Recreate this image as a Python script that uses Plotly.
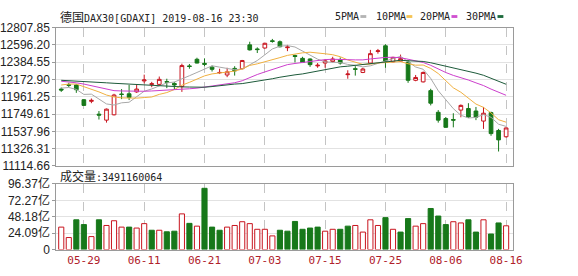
import plotly.graph_objects as go
import pandas as pd

# ---------------- data ----------------
dates = ["05-24", "05-27", "05-28", "05-29", "05-30", "05-31", "06-03", "06-04", "06-05", "06-06",
         "06-07", "06-11", "06-12", "06-13", "06-14", "06-17", "06-18", "06-19", "06-20", "06-21",
         "06-24", "06-25", "06-26", "06-27", "06-28", "07-01", "07-02", "07-03", "07-04", "07-05",
         "07-08", "07-09", "07-10", "07-11", "07-12", "07-15", "07-16", "07-17", "07-18", "07-19",
         "07-22", "07-23", "07-24", "07-25", "07-26", "07-29", "07-30", "07-31", "08-01", "08-02",
         "08-05", "08-06", "08-07", "08-08", "08-09", "08-12", "08-13", "08-14", "08-15", "08-16"]

opens = [12055.1, 12108.8, 12105.0, 11924.6, 11905.4, 11748.1, 11675.2, 11740.4, 11993.7, 11997.5,
         12020.6, 12154.9, 12112.7, 12112.7, 12147.2, 12124.2, 12085.8, 12339.1, 12419.7, 12369.8,
         12323.7, 12254.7, 12227.8, 12308.4, 12304.5, 12596.2, 12546.3, 12557.8, 12646.1, 12634.6,
         12561.7, 12465.7, 12431.2, 12423.5, 12339.1, 12373.6, 12392.8, 12412.0, 12231.6, 12304.5,
         12258.5, 12373.6, 12515.6, 12584.7, 12389.0, 12396.6, 12385.1, 12162.5, 12143.4, 12035.9,
         11771.1, 11694.4, 11682.8, 11798.0, 11817.2, 11786.5, 11663.7, 11767.3, 11548.5, 11471.8]
highs = [12074.3, 12131.8, 12112.7, 11932.3, 11940.0, 11786.5, 11817.2, 11997.5, 12055.1, 12105.0,
         12105.0, 12231.6, 12143.4, 12208.6, 12181.7, 12143.4, 12365.9, 12362.1, 12438.9, 12431.2,
         12342.9, 12304.5, 12316.1, 12335.2, 12412.0, 12634.6, 12565.5, 12623.1, 12669.1, 12649.9,
         12596.2, 12477.2, 12450.4, 12431.2, 12373.6, 12423.5, 12450.4, 12442.7, 12285.4, 12335.2,
         12316.1, 12534.8, 12546.3, 12603.9, 12450.4, 12477.2, 12412.0, 12227.8, 12270.0, 12058.9,
         11798.0, 11713.5, 11759.6, 11867.1, 11882.4, 11836.4, 11836.4, 11778.8, 11567.7, 11586.9]
lows = [12020.6, 12078.1, 12009.0, 11847.9, 11882.4, 11682.8, 11644.5, 11732.7, 11932.3, 11920.8,
        12009.0, 12124.2, 12078.1, 12097.3, 12066.6, 12055.1, 12020.6, 12304.5, 12369.8, 12335.2,
        12270.0, 12239.3, 12200.9, 12220.1, 12296.9, 12527.1, 12496.4, 12550.1, 12623.1, 12565.5,
        12519.4, 12381.3, 12373.6, 12327.6, 12316.1, 12316.1, 12381.3, 12354.4, 12181.7, 12220.1,
        12250.8, 12365.9, 12488.7, 12316.1, 12381.3, 12389.0, 12131.8, 12151.0, 12135.7, 11855.5,
        11644.5, 11583.1, 11586.9, 11709.7, 11702.0, 11675.2, 11567.7, 11483.3, 11291.4, 11460.3]
closes = [12043.6, 12101.1, 12047.4, 11855.5, 11916.9, 11736.6, 11809.5, 11982.2, 11989.9, 11951.5,
          12055.1, 12166.4, 12120.3, 12174.1, 12139.5, 12105.0, 12342.9, 12331.4, 12373.6, 12358.3,
          12296.9, 12258.5, 12266.2, 12277.7, 12404.3, 12534.8, 12538.6, 12615.4, 12638.4, 12573.2,
          12569.3, 12454.2, 12381.3, 12354.4, 12346.7, 12400.5, 12423.5, 12373.6, 12239.3, 12296.9,
          12300.7, 12488.7, 12523.3, 12396.6, 12442.7, 12427.3, 12162.5, 12197.1, 12258.5, 11882.4,
          11675.2, 11586.9, 11675.2, 11855.5, 11713.5, 11709.7, 11759.6, 11510.2, 11433.4, 11579.2]

# volume in 亿 (1e8)
volumes = [33.0, 17.7, 43.7, 36.7, 19.1, 43.7, 35.4, 42.3, 33.0, 33.0,
           31.6, 38.1, 28.4, 28.4, 26.1, 27.0, 52.4, 38.5, 34.4, 89.9,
           33.0, 28.4, 33.0, 35.4, 40.9, 38.1, 29.8, 29.8, 20.1, 28.4,
           27.0, 41.3, 29.8, 31.6, 33.0, 27.0, 29.8, 29.8, 34.4, 35.4,
           25.7, 43.7, 35.4, 46.9, 29.8, 25.7, 45.5, 34.4, 38.1, 60.3,
           49.2, 36.7, 40.9, 39.1, 43.7, 25.7, 43.7, 22.9, 39.1, 34.9116]
vol_up = [1, 1, 0, 0, 1, 0, 1, 1, 1, 0,
          1, 1, 0, 1, 0, 0, 1, 0, 1, 0,
          0, 0, 1, 1, 1, 1, 1, 1, 1, 0,
          0, 0, 0, 0, 0, 1, 1, 0, 0, 1,
          1, 1, 1, 0, 1, 0, 0, 1, 1, 0,
          0, 0, 1, 1, 0, 0, 1, 0, 0, 1]

# moving-average values before enough closes are visible
ma5_head = [12066.6, 12074.3, 12051.3, 11989.9]
ma10_head = [12105.0, 12116.5, 12116.5, 12085.8, 12058.9, 12020.6, 11982.2, 11959.1, 11947.6]
ma20_head = [12151.0, 12143.4, 12131.8, 12116.5, 12097.3, 12074.3, 12051.3, 12035.9, 12032.1, 12028.2,
             12028.2, 12028.2, 12032.1, 12035.9, 12039.7, 12043.6, 12051.3, 12058.9, 12066.6]
ma30_head = [12162.5, 12158.7, 12154.9, 12149.1, 12143.4, 12137.6, 12131.8, 12126.1, 12120.3, 12114.6,
             12108.8, 12103.1, 12097.3, 12093.5, 12089.6, 12085.8, 12082.0, 12080.0, 12078.1, 12078.1,
             12085.8, 12097.3, 12108.8, 12116.5, 12122.2, 12135.7, 12151.0, 12166.4, 12181.7]

price_ticks = [11114.66, 11326.31, 11537.96, 11749.61, 11961.25, 12172.90, 12384.55, 12596.20, 12807.85]
vol_ticks = [0, 24.09, 48.18, 72.27, 96.37]
vol_tick_text = ["0", "24.09亿", "48.18亿", "72.27亿", "96.37亿"]
xtick_dates = ["05-29", "06-11", "06-21", "07-03", "07-15", "07-25", "08-06", "08-16"]

title_text = "德国DAX30[GDAXI] 2019-08-16 23:30"
vol_label = "成交量:3491160064"
ma_names = ["5PMA", "10PMA", "20PMA", "30PMA"]

# ---------------- styling ----------------
W, H = 578, 276
RED = "#c8141e"
GREEN = "#17781a"
MA_COLORS = ["#a8a8a8", "#f0b040", "#cc3fcc", "#1d5a3a"]
SWATCH = ["#b4b4b4", "#f5c455", "#d050d0", "#1d6a3c"]
FRAME = "#9a9a9a"


def px(x):
    return x / W


def py(y):
    return 1 - y / H


s = pd.Series(closes)


def ma(n, head):
    m = s.rolling(n).mean().tolist()
    return list(head) + m[len(head):]


mas = [ma(5, ma5_head), ma(10, ma10_head), ma(20, ma20_head), ma(30, ma30_head)]

fig = go.Figure()
fig.add_trace(go.Candlestick(
    x=dates, open=opens, high=highs, low=lows, close=closes,
    increasing=dict(line=dict(color=RED, width=1), fillcolor="white"),
    decreasing=dict(line=dict(color=GREEN, width=1), fillcolor=GREEN),
    whiskerwidth=0, showlegend=False, xaxis="x", yaxis="y"))

for name, vals, col in zip(ma_names, mas, MA_COLORS):
    fig.add_trace(go.Scatter(x=dates, y=vals, mode="lines", name=name,
                             line=dict(color=col, width=1), showlegend=False,
                             xaxis="x", yaxis="y"))

fig.add_trace(go.Bar(
    x=dates, y=volumes, width=0.68,
    marker=dict(color=["white" if u else GREEN for u in vol_up],
                line=dict(color=[RED if u else GREEN for u in vol_up], width=1)),
    showlegend=False, xaxis="x2", yaxis="y2"))

xdom = [px(55.5), px(521.5)]
xrange = [-0.65, len(dates) - 1 + 0.87]
common_x = dict(domain=xdom, type="category", range=xrange, tickvals=xtick_dates,
                showgrid=True, gridcolor="#c4c4c4", griddash="dash", gridwidth=1,
                showline=True, mirror=True, linecolor=FRAME, linewidth=1,
                zeroline=False, fixedrange=True)

fig.update_layout(
    width=W, height=H,
    margin=dict(l=0, r=0, t=0, b=0),
    paper_bgcolor="white", plot_bgcolor="white",
    boxgap=0.3,
    showlegend=False,
    xaxis=dict(**common_x, anchor="y", showticklabels=False, ticks="",
               rangeslider=dict(visible=False)),
    yaxis=dict(domain=[py(167), py(20.7)], range=[price_ticks[0], price_ticks[-1]],
               tickvals=price_ticks, ticktext=[f"{v:.2f}" for v in price_ticks],
               showgrid=True, gridcolor="#e2e2e2", gridwidth=1,
               showline=True, mirror=True, linecolor=FRAME, linewidth=1,
               ticks="outside", ticklen=3, tickcolor=FRAME,
               tickfont=dict(family="Liberation Sans", size=12, color="#222222"),
               zeroline=False, anchor="x", fixedrange=True),
    xaxis2=dict(**common_x, anchor="y2", showticklabels=True, ticks="",
                tickfont=dict(family="DejaVu Sans Mono", size=11, color="#b0202a")),
    yaxis2=dict(domain=[py(255.5), py(186)], range=[0, vol_ticks[-1]],
                tickvals=vol_ticks, ticktext=vol_tick_text,
                showgrid=True, gridcolor="#e2e2e2", gridwidth=1,
                showline=True, mirror=True, linecolor=FRAME, linewidth=1,
                ticks="outside", ticklen=3, tickcolor=FRAME,
                tickfont=dict(family="Liberation Sans, Noto Sans CJK SC", size=12, color="#222222"),
                zeroline=False, anchor="x2", fixedrange=True),
)

mono = "DejaVu Sans Mono"
cjk = "Noto Sans CJK SC"
annotations = [
    dict(text=f'<span style="font-family:{cjk};font-size:12px">{title_text[:2]}</span>{title_text[2:]}',
         x=px(57), y=py(9), xanchor="left", yanchor="middle"),
    dict(text=f'<span style="font-family:{cjk};font-size:12px">{vol_label[:3]}</span>{vol_label[3:]}',
         x=px(57), y=py(177), xanchor="left", yanchor="middle"),
]
legend_x = [338, 380, 425, 472]
for name, lx in zip(ma_names, legend_x):
    annotations.append(dict(text=name, x=px(lx), y=py(9), xanchor="left", yanchor="middle"))
for a in annotations:
    a.update(xref="paper", yref="paper", showarrow=False,
             font=dict(family=mono, size=10, color="#222222"))
fig.update_layout(annotations=annotations)

swatch_x = [366, 413, 459, 506]
for sx, col in zip(swatch_x, SWATCH):
    fig.add_shape(type="rect", xref="paper", yref="paper",
                  x0=px(sx), x1=px(sx + 6), y0=py(10.5), y1=py(7.5),
                  fillcolor=col, line=dict(width=0))

fig.write_html("out.html")
